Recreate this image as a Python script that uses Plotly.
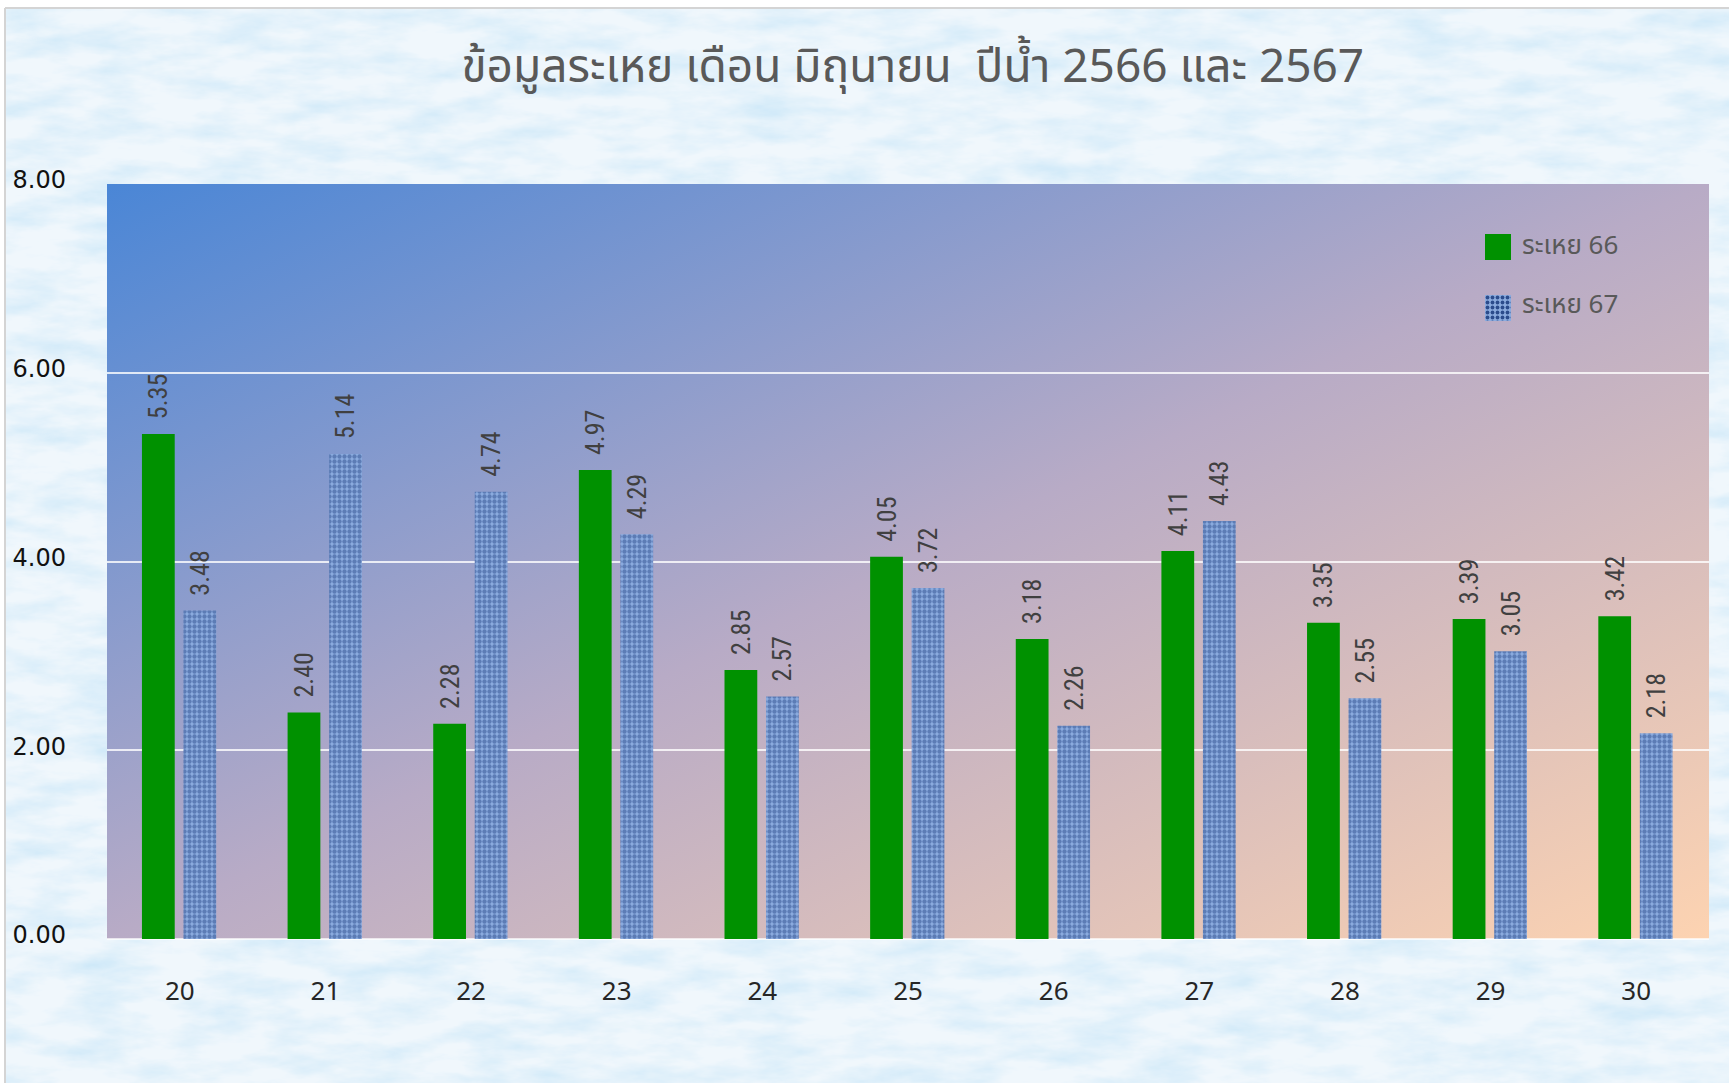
import base64
import plotly.graph_objects as go

# ---------------- data ----------------
days = ["20", "21", "22", "23", "24", "25", "26", "27", "28", "29", "30"]
evap_66 = [5.35, 2.40, 2.28, 4.97, 2.85, 4.05, 3.18, 4.11, 3.35, 3.39, 3.42]
evap_67 = [3.48, 5.14, 4.74, 4.29, 2.57, 3.72, 2.26, 4.43, 2.55, 3.05, 2.18]
series_names = ["ระเหย 66", "ระเหย 67"]
y_ticks = [0, 2, 4, 6, 8]
title_text = "ข้อมูลระเหย เดือน มิถุนายน  ปีน้ำ 2566 และ 2567"

# ---------------- layout geometry (pixels) ----------------
W, H = 1729, 1083
L, R, T, B = 107, 20, 184, 144
PW, PH = W - L - R, H - T - B


def px2x(px):
    return (px - L) / PW


def py2y(py):
    return (H - B - py) / PH


def svg_uri(s):
    return "data:image/svg+xml;base64," + base64.b64encode(s.encode("utf-8")).decode()


bg_svg = f"""<svg xmlns="http://www.w3.org/2000/svg" width="{W}" height="{H}" viewBox="0 0 {W} {H}" preserveAspectRatio="none">
<filter id="f" x="0" y="0" width="100%" height="100%">
<feTurbulence type="fractalNoise" baseFrequency="0.015 0.045" numOctaves="5" seed="11"/>
<feColorMatrix type="matrix" values="0 0 0 0 0.62  0 0 0 0 0.81  0 0 0 0 0.94  1.6 0 0 0 -0.58"/>
</filter>
<rect width="100%" height="100%" fill="#f0f7fc"/>
<rect width="100%" height="100%" filter="url(#f)"/>
</svg>"""

grad_svg = f"""<svg xmlns="http://www.w3.org/2000/svg" width="{PW}" height="{PH}" viewBox="0 0 {PW} {PH}" preserveAspectRatio="none">
<defs><linearGradient id="g" x1="0" y1="0" x2="1" y2="1">
<stop offset="0" stop-color="#4a86d6"/>
<stop offset="0.5" stop-color="#b8abc6"/>
<stop offset="1" stop-color="#fdd3b1"/>
</linearGradient></defs>
<rect width="{PW}" height="{PH}" fill="url(#g)"/>
</svg>"""

tex_svg = """<svg xmlns="http://www.w3.org/2000/svg" width="26" height="26" viewBox="0 0 26 26">
<defs><pattern id="p" width="5" height="5" patternUnits="userSpaceOnUse">
<rect width="5" height="5" fill="#8cacdf"/><circle cx="2.5" cy="2.5" r="1.9" fill="#2c4c8c"/></pattern></defs>
<rect width="26" height="26" fill="url(#p)"/>
</svg>"""

label_font = dict(family="Liberation Sans Narrow, Roboto Condensed, Roboto, sans-serif", size=26, color="#404040")

fig = go.Figure()
fig.add_bar(
    x=days, y=evap_66, name=series_names[0],
    width=0.225, offset=-0.26,
    marker=dict(color="#009100", line=dict(width=0)),
    texttemplate="\u00a0\u00a0%{y:.2f}", textposition="outside", textangle=-90,
    textfont=label_font, constraintext="none", cliponaxis=False,
)
fig.add_bar(
    x=days, y=evap_67, name=series_names[1],
    width=0.225, offset=0.025,
    marker=dict(color="#2c4c8c", line=dict(width=0),
                pattern=dict(shape=".", fgcolor="#2c4c8c", bgcolor="#8cacdf", size=5, solidity=0.6)),
    texttemplate="\u00a0\u00a0%{y:.2f}", textposition="outside", textangle=-90,
    textfont=label_font, constraintext="none", cliponaxis=False,
)

images = [
    dict(source=svg_uri(bg_svg), xref="paper", yref="paper", x=px2x(6), y=py2y(9),
         sizex=(W - 6) / PW, sizey=(H - 9) / PH, xanchor="left", yanchor="top",
         sizing="stretch", layer="below"),
    dict(source=svg_uri(grad_svg), xref="paper", yref="paper", x=0, y=1, sizex=1, sizey=1,
         xanchor="left", yanchor="top", sizing="stretch", layer="below"),
    dict(source=svg_uri(tex_svg), xref="paper", yref="paper", x=px2x(1485), y=py2y(295),
         sizex=26 / PW, sizey=26 / PH, xanchor="left", yanchor="top", sizing="stretch", layer="above"),
]

shapes = [
    dict(type="rect", xref="paper", yref="paper", x0=px2x(1485), x1=px2x(1511),
         y0=py2y(260), y1=py2y(234), fillcolor="#009100", line=dict(width=0)),
    dict(type="line", xref="paper", yref="paper", x0=px2x(5), x1=px2x(5), y0=py2y(8), y1=py2y(H),
         line=dict(color="#d4d4d4", width=2)),
    dict(type="line", xref="paper", yref="paper", x0=px2x(5), x1=px2x(W), y0=py2y(8), y1=py2y(8),
         line=dict(color="#d4d4d4", width=2)),
]

legend_font = dict(family="Noto Sans Thai, Leelawadee UI, Tahoma, Noto Sans, sans-serif", size=26, color="#595959")
annotations = [
    dict(text=series_names[0], xref="paper", yref="paper", x=px2x(1520), y=py2y(246),
         xanchor="left", yanchor="middle", showarrow=False, font=legend_font),
    dict(text=series_names[1], xref="paper", yref="paper", x=px2x(1520), y=py2y(305),
         xanchor="left", yanchor="middle", showarrow=False, font=legend_font),
]

fig.update_layout(
    width=W, height=H,
    margin=dict(l=L, r=R, t=T, b=B, pad=0),
    paper_bgcolor="white",
    plot_bgcolor="rgba(0,0,0,0)",
    barmode="overlay",
    showlegend=False,
    title=dict(text=title_text, x=0.503, xref="paper", xanchor="center",
               y=1 - 66 / H, yref="container", yanchor="middle",
               font=dict(family="Noto Sans Thai, Leelawadee UI, Tahoma, Noto Sans, sans-serif",
                         size=46, color="#595959")),
    xaxis=dict(type="category", categoryorder="array", categoryarray=days,
               showgrid=False, showline=False, ticks="", zeroline=False,
               tickfont=dict(family="Noto Sans, Lato, sans-serif", size=26, color="#262626"),
               ticklabelstandoff=34, fixedrange=True),
    yaxis=dict(range=[0, 8], tickvals=y_ticks, tickformat=".2f",
               showgrid=True, gridcolor="rgba(255,255,255,0.8)", gridwidth=2,
               zeroline=True, zerolinecolor="rgba(255,255,255,0.7)", zerolinewidth=2,
               showline=False, ticks="",
               tickfont=dict(family="DejaVu Sans, Verdana, sans-serif", size=24, color="#111111"),
               ticklabelstandoff=40, ticklabelshift=-4, fixedrange=True),
    images=images,
    shapes=shapes,
    annotations=annotations,
)

fig.write_html(
    "out.html",
    config={"displayModeBar": False},
    post_script="document.body.style.margin='0';document.body.style.overflow='hidden';",
)
